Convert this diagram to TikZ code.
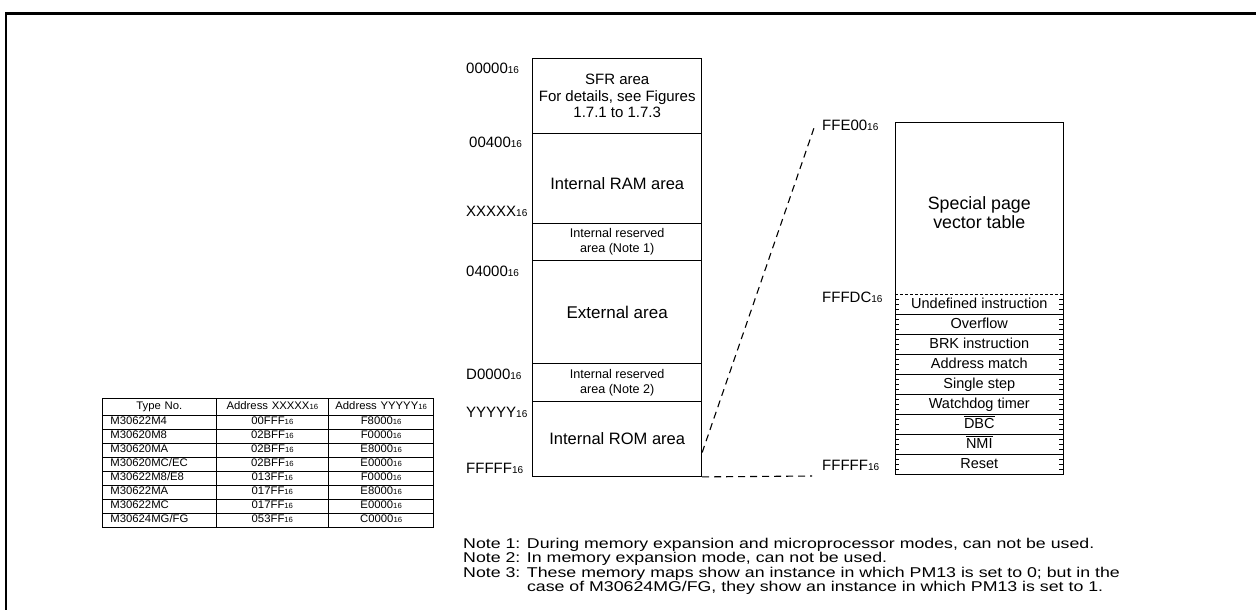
\documentclass[tikz,border=0pt]{standalone}
\usepackage{fontspec}
\setmainfont{Liberation Sans}
\newfontfamily\notefont[FakeStretch=1.25]{Liberation Sans}
\newfontfamily\tabfont[FakeStretch=1.03]{Liberation Sans}
\usetikzlibrary{calc}
\newcommand\hx[1]{#1{\fontsize{10}{10}\selectfont 16}}
\newcommand\thx[1]{#1{\fontsize{7.5}{7.5}\selectfont 16}}
\newcommand\myslash{/}
\begin{document}
\begin{tikzpicture}[x=1pt,y=-1pt,
  region/.style={draw, line width=0.9pt, minimum width=169pt, inner sep=0pt, align=center, anchor=north},
  lbl/.style={anchor=west, inner sep=0pt, font=\fontsize{15}{15}\selectfont},
  dashline/.style={line width=1.1pt, dash pattern=on 7pt off 5pt},
  vrow/.style={minimum width=168pt, minimum height=20pt, inner sep=0pt, text height=10.4pt, text depth=3pt, font=\fontsize{14.5}{14.5}\selectfont},
  tickline/.style={line width=0.5pt},
  cellbase/.style={draw, line width=0.7pt, anchor=north west, inner ysep=0pt, text height=8pt, text depth=2.3pt, font=\tabfont\fontsize{11}{11}\selectfont},
  cellA/.style={cellbase, inner xsep=7.7pt, text width=98pt, align=left},
  cellAc/.style={cellbase, inner xsep=7.7pt, text width=98pt, align=center},
  cellB/.style={cellbase, inner xsep=2pt, text width=108.6pt, align=center},
  cellC/.style={cellbase, inner xsep=2pt, text width=101pt, align=center},
  notetext/.style={anchor=base west, inner sep=0pt, font=\notefont\fontsize{14.2}{14.2}\selectfont}
]
\useasboundingbox (0,0) rectangle (1256,610);
\fill[white] (0,0) rectangle (1256,610);
% outer frame
\draw[line width=2.3pt] (6.2,612) -- (6.2,13.5) -- (1258,13.5);

% ---- memory map ----
\node[region, minimum height=75pt, font=\fontsize{15}{16.5}\selectfont] (sfr) at (617.2,58.3) {SFR area\\For details, see Figures\\1.7.1 to 1.7.3};
\node[region, minimum height=89.4pt, label={[font=\fontsize{16.5}{16.5}\selectfont, yshift=-5pt]center:Internal RAM area}] (ram) at (617.2,133.3) {};
\node[region, minimum height=37.3pt, font=\fontsize{12.6}{15}\selectfont] (res1) at (617.2,222.7) {Internal reserved\\area (Note 1)};
\node[region, minimum height=103.3pt, font=\fontsize{17}{17}\selectfont] (ext) at (617.2,260) {External area};
\node[region, minimum height=37.4pt, font=\fontsize{12.6}{15}\selectfont] (res2) at (617.2,363.3) {Internal reserved\\area (Note 2)};
\node[region, minimum height=75.3pt, font=\fontsize{16.5}{16.5}\selectfont] (rom) at (617.2,400.7) {Internal ROM area};

\node[lbl] (a0) at (466,68) {\hx{00000}};
\node[lbl] (a1) at (469,142) {\hx{00400}};
\node[lbl] (a2) at (466,211) {\hx{XXXXX}};
\node[lbl] (a3) at (466,271) {\hx{04000}};
\node[lbl] (a4) at (466,374) {\hx{D0000}};
\node[lbl] (a5) at (466,412) {\hx{YYYYY}};
\node[lbl] (a6) at (466,468) {\hx{FFFFF}};

% ---- vector table ----
\node[draw, line width=0.9pt, minimum width=168pt, minimum height=352pt, inner sep=0pt, anchor=north] (vt) at (979.3,122.3) {};
\node[align=center, inner sep=0pt, font=\fontsize{17.8}{18.5}\selectfont] (spv) at (979.3,212.5) {Special page\\vector table};
\foreach \t [count=\i] in {Undefined instruction, Overflow, BRK instruction, Address match, Single step, Watchdog timer, $\overline{\mbox{DBC}}$, $\overline{\mbox{NMI}}$, Reset}{
  \pgfmathsetmacro\yy{294.3+20*\i-10}
  \node[vrow] (row\i) at (979.3,\yy) {\t};
  \foreach \k in {5,10,15}{
    \draw[tickline] ([yshift=-\k pt]row\i.north west) -- ++(4.2,0);
    \draw[tickline] ([yshift=-\k pt]row\i.north east) -- ++(-4.2,0);
  }
}
\draw[line width=0.8pt, dash pattern=on 3pt off 2pt] (row1.north west) -- (row1.north east);
\foreach \i in {1,...,8}{
  \draw[line width=0.8pt] (row\i.south west) -- (row\i.south east);
}
\node[lbl] (v0) at (822,125) {\hx{FFE00}};
\node[lbl] (v1) at (822,297) {\hx{FFFDC}};
\node[lbl] (v2) at (822,465) {\hx{FFFFF}};

% ---- zoom connectors ----
\coordinate (z1) at ($(rom.north east)!0.68!(rom.south east)$);
\coordinate (z2) at (814,128);
\coordinate (z3) at (812,476);
\draw[dashline] (z1) -- (z2);
\draw[dashline] (rom.south east) -- (z3);

% ---- table ----
\node[cellAc, minimum height=16.2pt] (ha) at (102.3,398.3) {Type No.};
\node[cellB, minimum height=16.2pt] (hb) at (215.7,398.3) {Address \thx{XXXXX}};
\node[cellC, minimum height=16.2pt] (hc) at (328.3,398.3) {Address \thx{YYYYY}};
\foreach \a/\b/\c [count=\i] in {M30622M4/00FFF/F8000, M30620M8/02BFF/F0000, M30620MA/02BFF/E8000, M30620MC\myslash EC/02BFF/E0000, M30622M8\myslash E8/013FF/F0000, M30622MA/017FF/E8000, M30622MC/017FF/E0000, M30624MG\myslash FG/053FF/C0000}{
  \pgfmathsetmacro\ty{414.5+14*(\i-1)}
  \node[cellA, minimum height=14pt] (ta\i) at (102.3,\ty) {\a};
  \node[cellB, minimum height=14pt] (tb\i) at (215.7,\ty) {\thx{\b}};
  \node[cellC, minimum height=14pt] (tc\i) at (328.3,\ty) {\thx{\c}};
}

% ---- notes ----
\node[notetext] (n1) at (463,548) {Note 1: During memory expansion and microprocessor modes, can not be used.};
\node[notetext] (n2) at (463,562.5) {Note 2: In memory expansion mode, can not be used.};
\node[notetext] (n3) at (463,577) {Note 3: These memory maps show an instance in which PM13 is set to 0; but in the};
\node[notetext] (n4) at (463,591.5) {\phantom{Note 3: }case of M30624MG/FG, they show an instance in which PM13 is set to 1.};
\end{tikzpicture}
\end{document}
